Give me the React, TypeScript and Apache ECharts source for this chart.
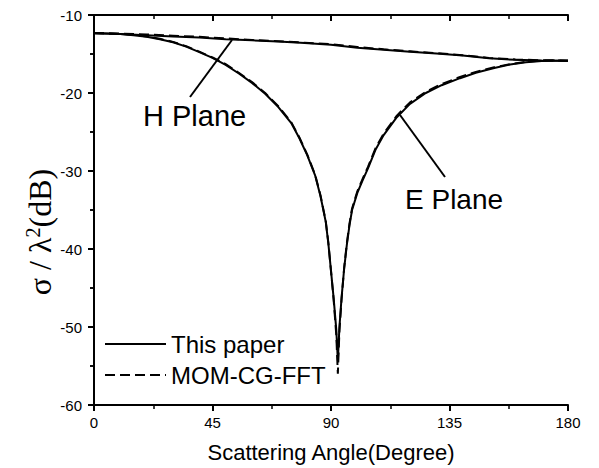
import React, { useEffect, useRef } from "react";
import * as echarts from "echarts";

// ---- data ----
const hAngles = [0, 10, 20, 30, 40, 50, 60, 70, 80, 90, 100, 110, 120, 130, 140, 150, 160, 170, 180];
const hThisPaper = [-12.35, -12.45, -12.6, -12.75, -12.9, -13.1, -13.25, -13.4, -13.6, -13.8, -14.2, -14.45, -14.7, -14.95, -15.2, -15.55, -15.75, -15.82, -15.85];
const hMom = [-12.3, -12.4, -12.5, -12.65, -12.8, -13.0, -13.2, -13.35, -13.55, -13.75, -14.1, -14.4, -14.65, -14.9, -15.15, -15.5, -15.7, -15.8, -15.85];

const eAngles = [0, 5, 10, 15, 20, 25, 30, 35, 40, 45, 50, 55, 60, 65, 70, 75, 78, 81, 84, 86, 88, 89, 90, 91, 92, 92.6, 93.2, 94, 95, 96, 97, 98, 100, 102, 104, 107, 110, 115, 120, 126, 132, 139, 145, 152, 158, 164, 170, 175, 180];
const eThisPaper = [-12.35, -12.38, -12.45, -12.6, -12.8, -13.1, -13.5, -14.05, -14.75, -15.5, -16.4, -17.5, -18.7, -20.1, -21.8, -23.9, -25.8, -28.0, -30.6, -33.2, -36.5, -39.3, -42.8, -46.3, -50.3, -54.3, -50.0, -46.3, -42.5, -39.5, -37.0, -35.0, -32.8, -31.2, -29.7, -27.2, -25.4, -23.1, -21.4, -20.0, -19.0, -18.1, -17.4, -16.8, -16.35, -16.05, -15.9, -15.85, -15.85];
const eMom = [-12.3, -12.35, -12.4, -12.55, -12.75, -13.05, -13.45, -14.0, -14.7, -15.45, -16.3, -17.4, -18.6, -20.0, -21.7, -23.8, -25.7, -27.9, -30.5, -33.1, -36.4, -39.2, -42.8, -46.5, -51.0, -56.0, -50.5, -46.5, -42.4, -39.3, -36.8, -34.8, -32.6, -31.0, -29.5, -27.0, -25.2, -22.9, -21.2, -19.85, -18.85, -17.95, -17.3, -16.7, -16.3, -16.0, -15.85, -15.8, -15.85];

const xTicks = { min: 0, max: 180, interval: 45 };
const yTicks = { min: -60, max: -10, interval: 10 };

const pairs = (xs: number[], ys: number[]) => xs.map((x, i) => [x, ys[i]]);

export default function App() {
  const ref = useRef<HTMLDivElement>(null);
  useEffect(() => {
    if (!ref.current) return;
    const chart = echarts.init(ref.current, undefined, { renderer: "svg" });
    const sans = "Liberation Sans, Arial, sans-serif";
    const axisLine = { show: true, lineStyle: { color: "#000", width: 2 } };
    const solid = { color: "#000", width: 2, type: "solid" as const };
    const dashed = { color: "#000", width: 2, type: [10, 5] as any };
    chart.setOption({
      animation: false,
      backgroundColor: "#fff",
      grid: { left: 94, right: 31, top: 15, bottom: 63 },
      xAxis: [
        {
          type: "value", position: "bottom", ...xTicks,
          name: "Scattering Angle(Degree)", nameLocation: "middle", nameGap: 36,
          nameTextStyle: { fontFamily: sans, fontSize: 22, color: "#000" },
          axisLine, splitLine: { show: false },
          axisTick: { show: true, inside: false, length: 6, lineStyle: { color: "#000", width: 2 } },
          minorTick: { show: true, splitNumber: 2, length: 4, lineStyle: { color: "#000", width: 1.5 } },
          axisLabel: { fontFamily: sans, fontSize: 15, color: "#000", margin: 10 },
        },
        {
          type: "value", position: "top", ...xTicks,
          axisLine, splitLine: { show: false },
          axisTick: { show: true, inside: true, length: 6, lineStyle: { color: "#000", width: 2 } },
          minorTick: { show: true, splitNumber: 2, length: 4, lineStyle: { color: "#000", width: 1.5 } },
          axisLabel: { show: false },
        },
      ],
      yAxis: [
        {
          type: "value", position: "left", ...yTicks,
          axisLine, splitLine: { show: false },
          axisTick: { show: true, inside: false, length: 6, lineStyle: { color: "#000", width: 2 } },
          minorTick: { show: true, splitNumber: 2, length: 4, lineStyle: { color: "#000", width: 1.5 } },
          axisLabel: { fontFamily: sans, fontSize: 15, color: "#000", margin: 12 },
        },
        {
          type: "value", position: "right", ...yTicks,
          axisLine, splitLine: { show: false },
          axisTick: { show: true, inside: true, length: 6, lineStyle: { color: "#000", width: 2 } },
          minorTick: { show: true, splitNumber: 2, length: 4, lineStyle: { color: "#000", width: 1.5 } },
          axisLabel: { show: false },
        },
      ],
      legend: {
        data: ["This paper", "MOM-CG-FFT"],
        orient: "vertical", left: 99, top: 327,
        itemWidth: 61, itemHeight: 14, itemGap: 7,
        itemStyle: { color: "rgba(0,0,0,0)", borderWidth: 0, opacity: 0 },
        textStyle: { fontFamily: sans, fontSize: 24, color: "#000", lineHeight: 24 },
      },
      graphic: [
        { type: "line", shape: { x1: 232, y1: 40, x2: 190, y2: 97 }, style: { stroke: "#000", lineWidth: 2 } },
        { type: "line", shape: { x1: 400, y1: 115, x2: 445, y2: 177 }, style: { stroke: "#000", lineWidth: 2 } },
        { type: "text", x: 143, y: 116, style: { text: "H Plane", font: `29px ${sans}`, fill: "#000", verticalAlign: "middle", align: "left" } },
        { type: "text", x: 405, y: 199, style: { text: "E Plane", font: `28px ${sans}`, fill: "#000", verticalAlign: "middle", align: "left" } },
        {
          type: "text", x: 40, y: 232, rotation: Math.PI / 2,
          style: {
            text: "σ / λ{sup|2}(dB)",
            font: "32px Liberation Serif, Times New Roman, serif",
            fill: "#000", align: "center", verticalAlign: "middle",
            rich: { sup: { fontSize: 20, fontFamily: "Liberation Serif, serif", fill: "#000", padding: [0, 0, 15, 0] } },
          },
        },
      ],
      series: [
        { name: "This paper", type: "line", data: pairs(hAngles, hThisPaper), symbol: "none", lineStyle: solid, itemStyle: { color: "#000" }, z: 3 },
        { name: "MOM-CG-FFT", type: "line", data: pairs(hAngles, hMom), symbol: "none", lineStyle: dashed, itemStyle: { color: "#000" }, z: 2 },
        { name: "This paper", type: "line", data: pairs(eAngles, eThisPaper), symbol: "none", lineStyle: solid, itemStyle: { color: "#000" }, z: 3 },
        { name: "MOM-CG-FFT", type: "line", data: pairs(eAngles, eMom), symbol: "none", lineStyle: dashed, itemStyle: { color: "#000" }, z: 2 },
      ],
    });
    return () => chart.dispose();
  }, []);
  return <div ref={ref} style={{ position: "absolute", left: 0, top: 0, width: 599, height: 468 }} />;
}
